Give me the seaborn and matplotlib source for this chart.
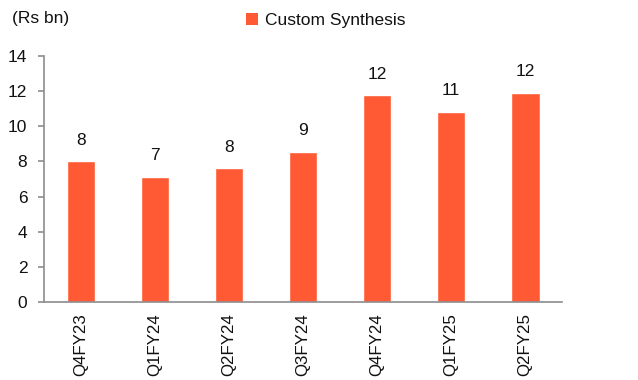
import matplotlib
matplotlib.use("Agg")
import matplotlib.pyplot as plt
import seaborn as sns
import pandas as pd
from matplotlib.patches import Patch
from matplotlib.ticker import FixedLocator

quarters = ["Q4FY23", "Q1FY24", "Q2FY24", "Q3FY24", "Q4FY24", "Q1FY25", "Q2FY25"]
custom_synthesis = [8.0, 7.1, 7.6, 8.55, 11.75, 10.8, 11.9]

df = pd.DataFrame({"quarter": quarters, "value": custom_synthesis})

sns.set_theme(style="white")
plt.rcParams["font.family"] = ["Liberation Sans", "DejaVu Sans"]

bar_color = "#FF5A33"
axis_grey = "#8C8C8C"
text_color = "#111111"

fig = plt.figure(figsize=(6.38, 3.80), dpi=100)
ax = fig.add_axes([0.069, 0.205, 0.812, 0.648])

sns.barplot(data=df, x="quarter", y="value", color=bar_color, width=0.39,
            saturation=1, ax=ax)

ax.set_xlim(-0.5, len(quarters) - 0.5)
ax.set_ylim(0, 14)
ax.set_yticks(range(0, 15, 2))
ax.set_xlabel("")
ax.set_ylabel("")

for spine in ("top", "right"):
    ax.spines[spine].set_visible(False)
for spine in ("left", "bottom"):
    ax.spines[spine].set_color(axis_grey)
    ax.spines[spine].set_linewidth(1.2)

# category labels without marks; marks at category boundaries
ax.tick_params(axis="x", which="major", length=0, labelsize=12.2, rotation=90,
               pad=8, labelcolor=text_color)
ax.xaxis.set_minor_locator(FixedLocator([i - 0.5 for i in range(len(quarters) + 1)]))
ax.tick_params(axis="x", which="minor", length=5, width=1.2, color=axis_grey,
               direction="out")
ax.tick_params(axis="y", length=4, width=1.2, color=axis_grey, direction="out",
               labelsize=12.5, pad=8, labelcolor=text_color, left=True)

for i, v in enumerate(custom_synthesis):
    ax.annotate(f"{v:.0f}", (i, v), xytext=(0, 10), textcoords="offset points",
                ha="center", va="bottom", fontsize=12.5, color=text_color)

fig.text(0.019, 0.952, "(Rs bn)", fontsize=12.5, ha="left", va="center",
         color=text_color)

fig.legend(handles=[Patch(facecolor=bar_color, edgecolor="none",
                          label="Custom Synthesis")],
           loc="center", bbox_to_anchor=(0.51, 0.947), frameon=False,
           fontsize=12.5, handlelength=0.7, handleheight=0.7, handletextpad=0.4,
           borderaxespad=0, labelcolor=text_color)

fig.savefig("out.png", dpi=100)
